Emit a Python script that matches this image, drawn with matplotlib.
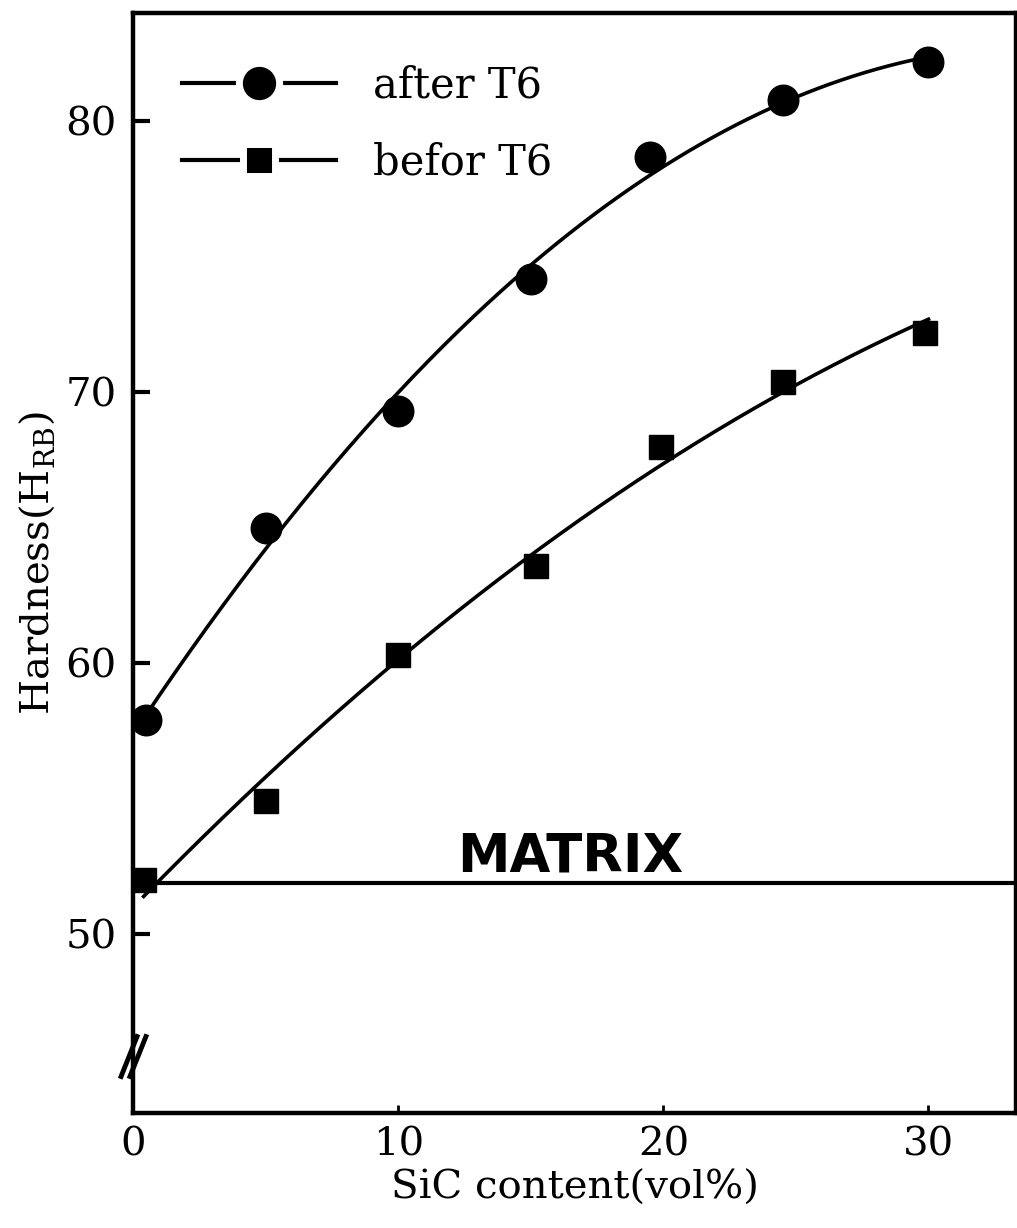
import numpy as np
import matplotlib
matplotlib.use("Agg")
import matplotlib.pyplot as plt
from matplotlib.lines import Line2D
from matplotlib.path import Path

# datos
sic_after = [0.5, 5, 10, 15, 19.5, 24.5, 30]
hard_after = [57.9, 65.0, 69.3, 74.2, 78.7, 80.8, 82.2]
sic_before = [0.4, 5, 10, 15.2, 19.9, 24.5, 29.85]
hard_before = [52.0, 54.9, 60.3, 63.6, 68.0, 70.4, 72.2]
matrix_hard = 51.9

x_ticks = [0, 10, 20, 30]
y_ticks = [50, 60, 70, 80]

plt.rcParams["font.family"] = ["DejaVu Serif"]
plt.rcParams["mathtext.fontset"] = "dejavuserif"

fig = plt.figure(figsize=(10.17, 12.28), dpi=100)
ax = fig.add_axes([0.1308, 0.0936, 0.8682, 0.8958])

# curvas de ajuste (cuadraticas)
xs = np.linspace(0.4, 30, 200)
c_after = np.polyfit(sic_after, hard_after, 2)
c_before = np.polyfit(sic_before, hard_before, 2)
ax.plot(xs, np.polyval(c_after, xs), color="black", lw=2.6)
ax.plot(xs, np.polyval(c_before, xs), color="black", lw=2.6)

ax.plot(sic_after, hard_after, "o", color="black", ms=22, ls="none")
ax.plot(sic_before, hard_before, "s", color="black", ms=17, ls="none")

# linea de la matriz
ax.axhline(matrix_hard, color="black", lw=3)
ax.text(16.5, 52.3, "MATRIX", ha="center", va="baseline",
        fontsize=38, fontweight="bold", family=["DejaVu Sans"])

# marca de corte en el eje y
corte = Path([(-0.6, -1.0), (0.2, 1.0), (-0.2, -1.0), (0.6, 1.0)],
             [Path.MOVETO, Path.LINETO, Path.MOVETO, Path.LINETO])
ax.plot([0], [45.5], marker=corte, ms=32, mew=3.5, color="black", clip_on=False)

ax.set_xlim(0, 33.3)
ax.set_ylim(43.4, 84.0)
ax.set_xticks(x_ticks)
ax.set_yticks(y_ticks)
ax.tick_params(axis="y", direction="in", length=12, width=3, pad=12, labelsize=29)
ax.tick_params(axis="x", direction="in", length=6, width=2, pad=10, labelsize=29)
for s in ax.spines.values():
    s.set_linewidth(3.2)

ax.set_xlabel("SiC content(vol%)", fontsize=29, labelpad=4)
ax.set_ylabel(r"Hardness(H$_\mathrm{RB}$)", fontsize=29, labelpad=6)

# leyenda: marcador con borde blanco para dejar hueco en la linea
h1 = Line2D([], [], color="black", lw=3, marker="o", ms=29, mfc="black",
            mec="white", mew=5)
h2 = Line2D([], [], color="black", lw=3, marker="s", ms=23, mfc="black",
            mec="white", mew=5)
ax.legend([h1, h2], ["after T6", "befor T6"], loc="upper left",
          bbox_to_anchor=(0.055, 0.953), frameon=False, fontsize=30,
          handlelength=3.7, handletextpad=0.9, labelspacing=0.83,
          borderpad=0, borderaxespad=0, numpoints=1)

fig.savefig("out.png", dpi=100, facecolor="white")
